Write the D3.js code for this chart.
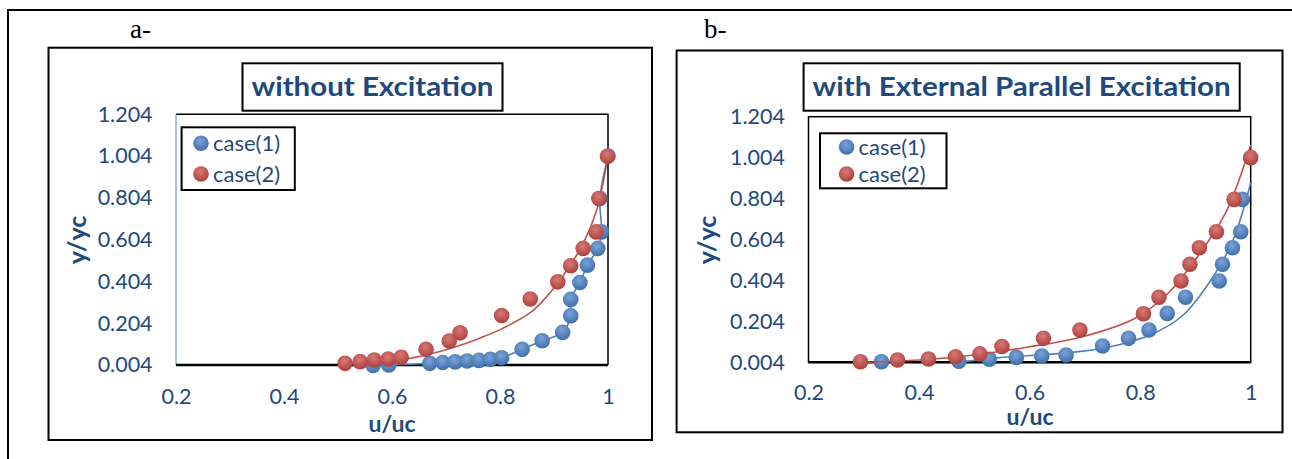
<!DOCTYPE html>
<html>
<head>
<meta charset="utf-8">
<script src="https://cdn.jsdelivr.net/npm/d3@7"></script>
<style>
  html, body { margin: 0; padding: 0; background: #fff; }
  svg { display: block; }
  .tick text { font-family: Lato, "Open Sans", sans-serif; font-size: 21.5px; fill: #1F497D; }
</style>
</head>
<body>
<svg id="chart" width="1292" height="459"></svg>
<script>
// --- data ---
const xTicks = [0.2, 0.4, 0.6, 0.8, 1];
const yTicks = [0.004, 0.204, 0.404, 0.604, 0.804, 1.004, 1.204];
const seriesNames = ["case(1)", "case(2)"];

// a- without excitation
const aCase1 = [[0.565, 0.002], [0.594, 0.004], [0.670, 0.012], [0.694, 0.016], [0.717, 0.019],
  [0.739, 0.023], [0.761, 0.026], [0.782, 0.031], [0.803, 0.039], [0.841, 0.079], [0.878, 0.120],
  [0.916, 0.160], [0.931, 0.240], [0.931, 0.318], [0.948, 0.399], [0.962, 0.482], [0.981, 0.562],
  [0.988, 0.641], [0.985, 0.801], [1.0, 1.004]];
const aCase2 = [[0.513, 0.012], [0.541, 0.020], [0.567, 0.028], [0.593, 0.033], [0.617, 0.041],
  [0.663, 0.079], [0.706, 0.119], [0.726, 0.158], [0.803, 0.241], [0.856, 0.320], [0.907, 0.402],
  [0.931, 0.479], [0.954, 0.562], [0.978, 0.641], [0.983, 0.801], [0.999, 1.003]];
// trend line of case(2)
const aTrend2 = [[0.565, 0.009], [0.615, 0.028], [0.663, 0.052], [0.714, 0.088], [0.76, 0.13],
  [0.804, 0.178], [0.862, 0.267], [0.908, 0.40], [0.954, 0.586], [0.979, 0.745], [1.0, 1.004]];

// b- with external parallel excitation
const bCase1 = [[0.332, 0.007], [0.472, 0.009], [0.527, 0.019], [0.576, 0.028], [0.622, 0.035],
  [0.666, 0.040], [0.732, 0.084], [0.779, 0.121], [0.816, 0.162], [0.849, 0.243], [0.882, 0.322],
  [0.943, 0.401], [0.949, 0.483], [0.967, 0.564], [0.982, 0.642], [0.985, 0.800]];
const bCase2 = [[0.294, 0.007], [0.361, 0.015], [0.417, 0.020], [0.466, 0.031], [0.510, 0.045],
  [0.550, 0.081], [0.625, 0.121], [0.691, 0.162], [0.806, 0.241], [0.834, 0.322], [0.874, 0.401],
  [0.890, 0.483], [0.907, 0.564], [0.938, 0.642], [0.970, 0.800], [1.0, 1.004]];
const bTrend1 = [[0.47, 0.004], [0.546, 0.027], [0.667, 0.05], [0.74, 0.076], [0.818, 0.137],
  [0.878, 0.235], [0.932, 0.422], [0.968, 0.601], [1.0, 0.881]];
const bTrend2 = [[0.30, 0.004], [0.40, 0.015], [0.50, 0.040], [0.60, 0.080], [0.69, 0.125],
  [0.79, 0.218], [0.85, 0.34], [0.908, 0.536], [0.957, 0.748], [1.0, 1.066]];

const BLUE = "#4F81BD", RED = "#C0504D", TEXT = "#1F497D";
const FONT = 'Lato, "Open Sans", sans-serif';

const svg = d3.select("#chart");

// marker shading
const defs = svg.append("defs");
function shade(id, light, dark) {
  const g = defs.append("radialGradient").attr("id", id)
    .attr("cx", "45%").attr("cy", "35%").attr("r", "65%");
  g.append("stop").attr("offset", "0%").attr("stop-color", light);
  g.append("stop").attr("offset", "100%").attr("stop-color", dark);
}
shade("gBlue", "#7ba3d8", "#3e6eab");
shade("gRed", "#d87a77", "#ad3f3c");

// outer frame (only top and left visible)
svg.append("path").attr("d", "M8,459 V10 H1292")
  .attr("fill", "none").attr("stroke", "#000").attr("stroke-width", 2);

const charts = [
  {
    tag: "a-", tagX: 130, box: [48.5, 47.7, 652, 440],
    plot: { l: 176, r: 608, t: 114.3, b: 365 },
    title: "without Excitation", titleBox: [242.5, 63.3, 502.5, 110.7],
    legendBox: [181.6, 127.3, 294.8, 190], legMx: 201, legY: [143.3, 174],
    yLabX: 152.6, xLabY: 396, xTitle: [392, 424], yTitle: [77, 240],
    leftBlue: true,
    lines: [{ pts: aCase1, color: BLUE }, { pts: aTrend2, color: RED }],
    case1: aCase1, case2: aCase2
  },
  {
    tag: "b-", tagX: 704, box: [676.6, 50.5, 1282.5, 432.3],
    plot: { l: 808.5, r: 1250.7, t: 116.7, b: 362.3 },
    title: "with External Parallel Excitation", titleBox: [803.6, 63.3, 1239.7, 110.7],
    legendBox: [820, 133.3, 946.5, 188.3], legMx: 846.6, legY: [147, 174],
    yLabX: 785, xLabY: 392, xTitle: [1030, 417], yTitle: [707, 240],
    leftBlue: false,
    lines: [{ pts: bTrend1, color: BLUE }, { pts: bTrend2, color: RED }],
    case1: bCase1, case2: bCase2
  }
];

charts.forEach(c => {
  const g = svg.append("g");
  const p = c.plot;

  g.append("text").attr("x", c.tagX).attr("y", 38)
    .attr("font-family", '"Liberation Serif", "Times New Roman", serif')
    .attr("font-size", 27).attr("fill", "#000").text(c.tag);

  g.append("rect").attr("x", c.box[0]).attr("y", c.box[1])
    .attr("width", c.box[2] - c.box[0]).attr("height", c.box[3] - c.box[1])
    .attr("fill", "none").attr("stroke", "#000").attr("stroke-width", 2);

  const x = d3.scaleLinear().domain([0.2, 1]).range([p.l, p.r]);
  const y = d3.scaleLinear().domain([0.004, 1.204]).range([p.b, p.t]);

  // plot area border
  if (c.leftBlue) {
    g.append("path").attr("d", `M${p.l},${p.t} H${p.r} V${p.b}`)
      .attr("fill", "none").attr("stroke", "#000").attr("stroke-width", 1.5);
    g.append("line").attr("x1", p.l).attr("x2", p.l).attr("y1", p.t).attr("y2", p.b)
      .attr("stroke", "#6f9ad3").attr("stroke-width", 1.2);
  } else {
    g.append("rect").attr("x", p.l).attr("y", p.t)
      .attr("width", p.r - p.l).attr("height", p.b - p.t)
      .attr("fill", "none").attr("stroke", "#000").attr("stroke-width", 1.5);
  }
  g.append("line").attr("x1", p.l).attr("x2", p.r).attr("y1", p.b).attr("y2", p.b)
    .attr("stroke", "#000").attr("stroke-width", 2.5);

  // axes (labels only)
  const ya = g.append("g").attr("transform", `translate(${p.l},0)`)
    .call(d3.axisLeft(y).tickValues(yTicks).tickFormat(d3.format(".3f"))
      .tickSize(0).tickPadding(p.l - c.yLabX));
  ya.select(".domain").remove();
  ya.selectAll("text").attr("font-family", null).attr("font-size", null);

  const xa = g.append("g").attr("transform", `translate(0,${p.b})`)
    .call(d3.axisBottom(x).tickValues(xTicks).tickFormat(d3.format("~g")).tickSize(0));
  xa.select(".domain").remove();
  xa.selectAll("text").attr("font-family", null).attr("font-size", null)
    .attr("y", c.xLabY - p.b).attr("dy", "0.35em");

  // axis titles
  g.append("text").attr("x", c.xTitle[0]).attr("y", c.xTitle[1]).attr("dy", "0.35em")
    .attr("text-anchor", "middle").attr("font-family", FONT).attr("font-weight", 700)
    .attr("font-size", 23).attr("fill", TEXT).text("u/uc");
  g.append("text")
    .attr("transform", `translate(${c.yTitle[0]},${c.yTitle[1]}) rotate(-90)`)
    .attr("dy", "0.35em").attr("text-anchor", "middle").attr("font-family", FONT)
    .attr("font-weight", 700).attr("font-size", 25).attr("fill", TEXT).text("y/yc");

  // title box
  const tb = c.titleBox;
  g.append("rect").attr("x", tb[0]).attr("y", tb[1])
    .attr("width", tb[2] - tb[0]).attr("height", tb[3] - tb[1])
    .attr("fill", "#fff").attr("stroke", "#000").attr("stroke-width", 2);
  g.append("text").attr("x", (tb[0] + tb[2]) / 2).attr("y", (tb[1] + tb[3]) / 2)
    .attr("dy", "0.35em").attr("text-anchor", "middle")
    .attr("font-family", FONT).attr("font-weight", 700).attr("font-size", 26)
    .attr("fill", TEXT)
    .attr("textLength", tb[2] - tb[0] - 18).attr("lengthAdjust", "spacingAndGlyphs")
    .text(c.title);

  // series lines
  const line = d3.line().x(d => x(d[0])).y(d => y(d[1])).curve(d3.curveCatmullRom.alpha(0.5));
  const drawLine = l => g.append("path").attr("d", line(l.pts))
    .attr("fill", "none").attr("stroke", l.color).attr("stroke-width", 1.6);
  const drawDots = (pts, fill) => g.append("g").selectAll("circle").data(pts).join("circle")
    .attr("cx", d => x(d[0])).attr("cy", d => y(d[1])).attr("r", 7.8).attr("fill", fill);

  drawLine(c.lines[0]);
  drawDots(c.case1, "url(#gBlue)");
  drawLine(c.lines[1]);
  drawDots(c.case2, "url(#gRed)");

  // legend
  const lb = c.legendBox;
  g.append("rect").attr("x", lb[0]).attr("y", lb[1])
    .attr("width", lb[2] - lb[0]).attr("height", lb[3] - lb[1])
    .attr("fill", "#fff").attr("stroke", "#000").attr("stroke-width", 2);
  [["url(#gBlue)", seriesNames[0]], ["url(#gRed)", seriesNames[1]]].forEach((s, i) => {
    g.append("circle").attr("cx", c.legMx).attr("cy", c.legY[i]).attr("r", 7.8).attr("fill", s[0]);
    g.append("text").attr("x", c.legMx + 12).attr("y", c.legY[i]).attr("dy", "0.35em")
      .attr("font-family", FONT).attr("font-size", 22).attr("fill", TEXT).text(s[1]);
  });
});
</script>
</body>
</html>
